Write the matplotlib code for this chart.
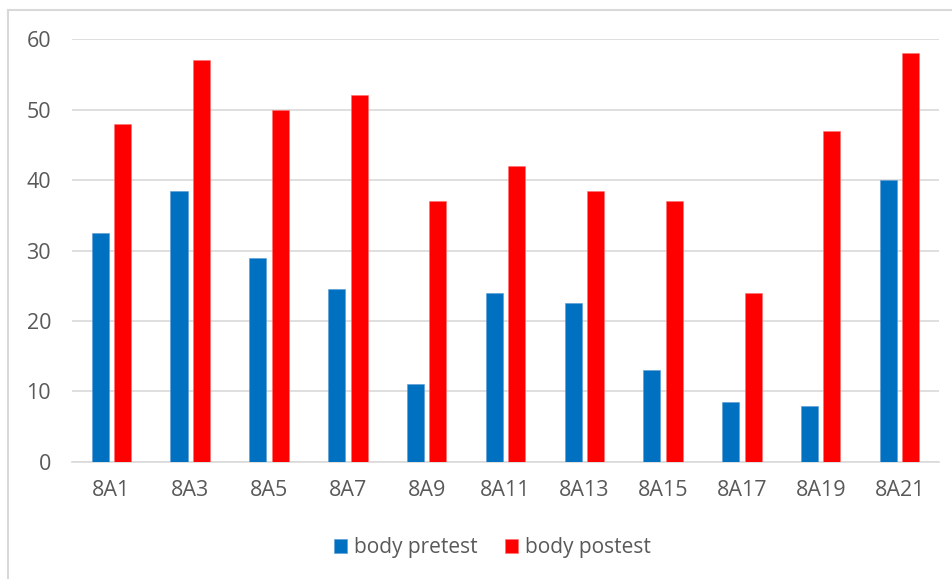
import matplotlib
matplotlib.use("Agg")
import matplotlib.pyplot as plt
import numpy as np
from matplotlib.lines import Line2D

classes = ["8A1", "8A3", "8A5", "8A7", "8A9", "8A11", "8A13", "8A15", "8A17", "8A19", "8A21"]
pretest = [32.5, 38.5, 29, 24.5, 11, 24, 22.5, 13, 8.5, 8, 40]
postest = [48, 57, 50, 52, 37, 42, 38.5, 37, 24, 47, 58]
yticks = [0, 10, 20, 30, 40, 50, 60]

BLUE = "#0070c0"
RED = "#ff0000"
GRID = "#d9d9d9"
TXT = "#595959"

plt.rcParams["font.family"] = ["Open Sans", "DejaVu Sans"]

fig = plt.figure(figsize=(9.53, 5.79), dpi=100)
ax = fig.add_axes([0.0755, 0.2021, 0.9098, 0.7305])

x = np.arange(len(classes))
w = 0.216
ax.bar(x - 0.142, pretest, width=w, color=BLUE, edgecolor="#5b9bd5", linewidth=0.4,
       label="body pretest", zorder=3)
ax.bar(x + 0.142, postest, width=w, color=RED, edgecolor="#ff7070", linewidth=0.4,
       label="body postest", zorder=3)

ax.set_xlim(-0.5, len(classes) - 0.5)
ax.set_ylim(0, 60)
ax.set_yticks(yticks)
ax.set_xticks(x)
ax.set_xticklabels(classes)
ax.grid(axis="y", color=GRID, linewidth=1.2, zorder=0)
for s in ["top", "right", "left"]:
    ax.spines[s].set_visible(False)
ax.spines["bottom"].set_color(GRID)
ax.spines["bottom"].set_linewidth(1.2)
ax.tick_params(axis="both", length=0, colors=TXT, labelsize=15.5)
ax.tick_params(axis="y", pad=15)
ax.tick_params(axis="x", pad=13)

fig.legend(loc="center", bbox_to_anchor=(0.517, 1 - 548 / 579), ncol=2, frameon=False,
           fontsize=15, labelcolor=TXT, handlelength=0.62, handleheight=0.62,
           handletextpad=0.35, columnspacing=1.3)

# light chart-area border (left and top edges visible in the original)
fig.add_artist(Line2D([8 / 953, 8 / 953], [0, 1 - 9.5 / 579], color=GRID, linewidth=1.5,
                      transform=fig.transFigure))
fig.add_artist(Line2D([8 / 953, 1], [1 - 9.5 / 579, 1 - 9.5 / 579], color=GRID, linewidth=1.5,
                      transform=fig.transFigure))

fig.savefig("out.png", dpi=100)
